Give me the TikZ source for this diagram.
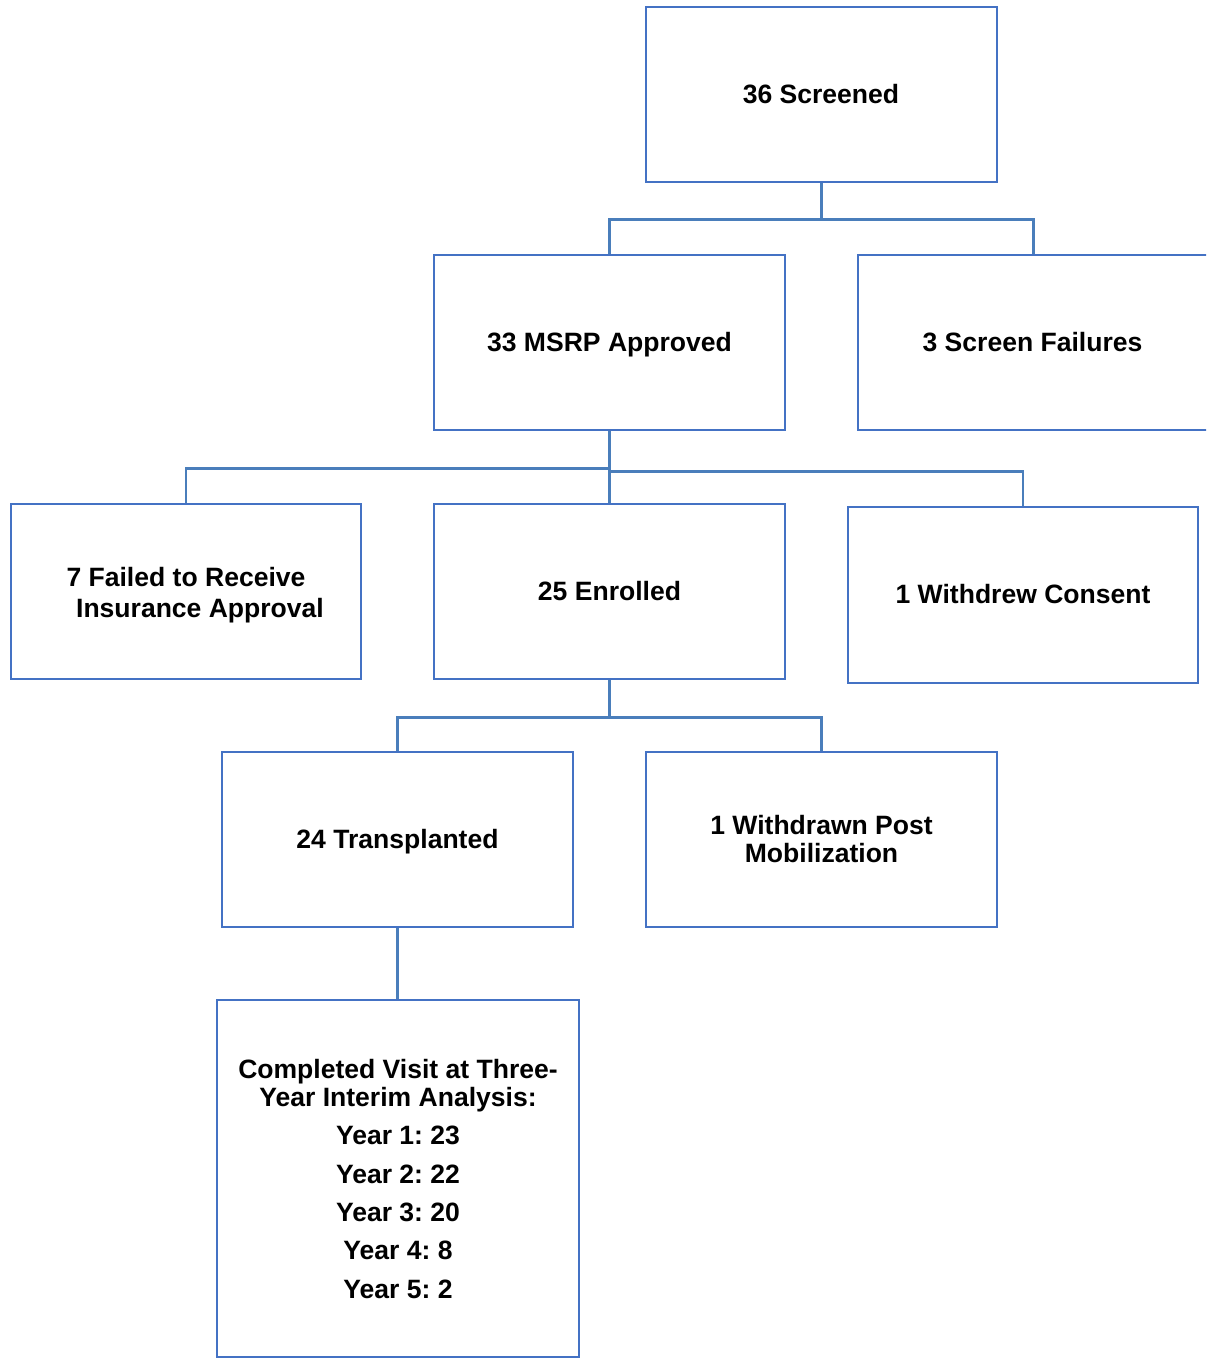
\documentclass[tikz,border=0pt]{standalone}
\usepackage{fontspec}
\setmainfont{Liberation Sans}
\frenchspacing
\definecolor{boxc}{HTML}{4472C4}
\definecolor{connc}{HTML}{4A7EBB}
\begin{document}
\frenchspacing
\begin{tikzpicture}[x=0.75pt,y=-0.75pt,
  box/.style={draw=boxc, line width=1.9pt, rectangle, inner sep=0pt},
  conn/.style={draw=connc, line width=2.1pt},
  lbl/.style={anchor=base, inner sep=0pt, font=\fontsize{19.9pt}{23pt}\selectfont\bfseries\frenchspacing}]
\useasboundingbox (0,0) rectangle (1206,1358);
\clip (0,0) rectangle (1206,1358);
% boxes
\node[box, minimum width=263.25pt, minimum height=131.25pt] (scr)  at (821.5,94.5) {};
\node[box, minimum width=263.25pt, minimum height=131.25pt] (msrp) at (609.5,342.5) {};
\node[box, minimum width=263.25pt, minimum height=131.25pt] (sf)   at (1033.5,342.5) {};
\node[box, minimum width=262.5pt,  minimum height=131.25pt] (fail) at (186,591.5) {};
\node[box, minimum width=263.25pt, minimum height=131.25pt] (enr)  at (609.5,591.5) {};
\node[box, minimum width=262.5pt,  minimum height=132pt]    (wd)   at (1023,595) {};
\node[box, minimum width=263.25pt, minimum height=131.25pt] (tr)   at (397.5,839.5) {};
\node[box, minimum width=263.25pt, minimum height=131.25pt] (wp)   at (821.5,839.5) {};
\node[box, minimum width=271.5pt,  minimum height=267.75pt] (cv)   at (398,1178.5) {};
% texts
\node[lbl] (t1) at (821,103.5) {36 Screened};
\node[lbl] (t2) at (609.5,351.5) {33 MSRP Approved};
\node[lbl] (t3) at (1032.5,351.5) {3 Screen Failures};
\node[lbl] (t4a) at (186,586.5) {7 Failed to Receive};
\node[lbl] (t4b) at (200,617.5) {Insurance Approval};
\node[lbl] (t5) at (609.5,600.5) {25 Enrolled};
\node[lbl] (t6) at (1023,603.5) {1 Withdrew Consent};
\node[lbl] (t7) at (397.5,848.5) {24 Transplanted};
\node[lbl] (t8a) at (821.5,834.5) {1 Withdrawn Post};
\node[lbl] (t8b) at (821.5,862.5) {Mobilization};
\node[lbl] (t9a) at (398,1078.5) {Completed Visit at Three-};
\node[lbl] (t9b) at (398,1106.5) {Year Interim Analysis:};
\node[lbl] (t9c) at (398,1144.5) {Year 1: 23};
\node[lbl] (t9d) at (398,1183) {Year 2: 22};
\node[lbl] (t9e) at (398,1221.5) {Year 3: 20};
\node[lbl] (t9f) at (398,1259.5) {Year 4: 8};
\node[lbl] (t9g) at (398,1298) {Year 5: 2};
% connectors
\path (scr.south) ++(0,36) coordinate (j1);
\draw[conn] (scr.south) -- (j1);
\draw[conn] (msrp.north) |- (j1) -| (sf.north);
\path (msrp.south) ++(0,37) coordinate (j2);
\path (msrp.south) ++(0,40) coordinate (j3);
\draw[conn] (msrp.south) -- (enr.north);
\draw[conn] (j2) -| (fail.north);
\draw[conn] (j3) -| (wd.north);
\path (enr.south) ++(0,37) coordinate (j4);
\draw[conn] (enr.south) -- (j4);
\draw[conn] (tr.north) |- (j4) -| (wp.north);
\draw[conn] (tr.south) -- (tr.south |- cv.north);
\end{tikzpicture}
\end{document}
